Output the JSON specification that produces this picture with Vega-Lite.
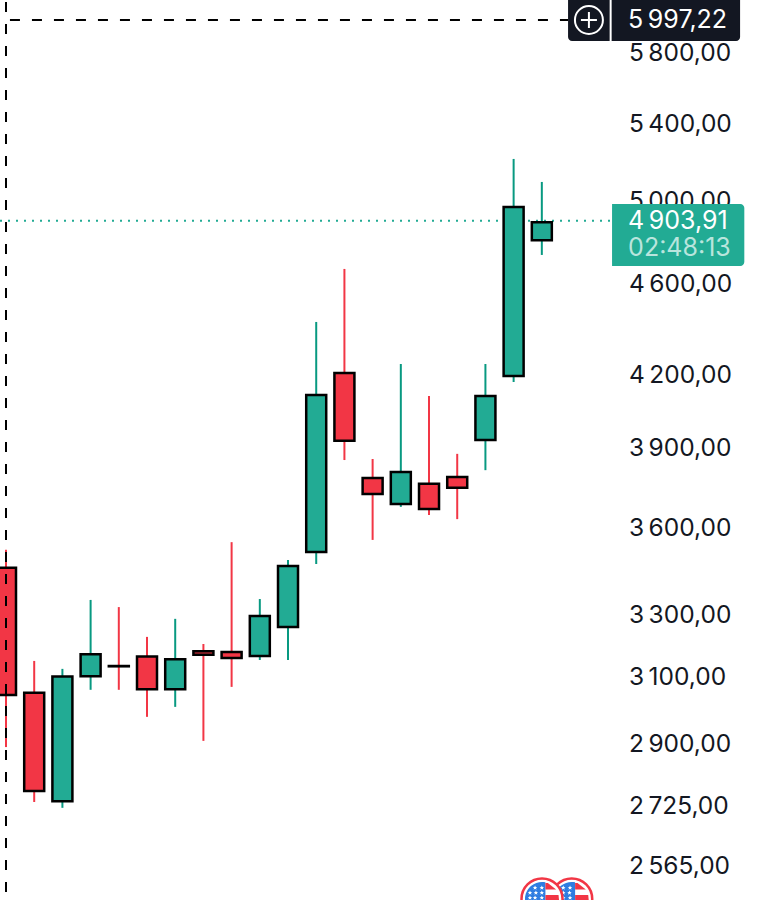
{
"$schema":"https://vega.github.io/schema/vega-lite/v6.json",
"width":768,"height":900,"padding":0,"autosize":{"type":"none"},
"background":"#ffffff",
"config":{"view":{"stroke":null},"scale":{"continuousPadding":0},"locale":{"number":{"decimal":",","thousands":"\u2009","grouping":[3],"currency":["",""]}}},
"datasets":{
"candles":[
{"i":0,"dir":"down","high":3525,"top":3462,"bottom":3047,"low":2892},
{"i":1,"dir":"down","high":3153,"top":3054,"bottom":2767,"low":2737},
{"i":2,"dir":"up","high":3128,"top":3104,"bottom":2739,"low":2721},
{"i":3,"dir":"up","high":3352,"top":3174,"bottom":3105,"low":3063},
{"i":4,"dir":"down","high":3328,"top":3137,"bottom":3136,"low":3063},
{"i":5,"dir":"down","high":3230,"top":3167,"bottom":3065,"low":2981},
{"i":6,"dir":"up","high":3289,"top":3158,"bottom":3065,"low":3011},
{"i":7,"dir":"down","high":3207,"top":3184,"bottom":3173,"low":2910},
{"i":8,"dir":"down","high":3552,"top":3181,"bottom":3162,"low":3072},
{"i":9,"dir":"up","high":3355,"top":3298,"bottom":3169,"low":3156},
{"i":10,"dir":"up","high":3489,"top":3468,"bottom":3262,"low":3156},
{"i":11,"dir":"up","high":4430,"top":4117,"bottom":3517,"low":3475},
{"i":12,"dir":"down","high":4672,"top":4209,"bottom":3932,"low":3857},
{"i":13,"dir":"down","high":3861,"top":3788,"bottom":3728,"low":3560},
{"i":14,"dir":"up","high":4247,"top":3811,"bottom":3691,"low":3680},
{"i":15,"dir":"down","high":4113,"top":3766,"bottom":3672,"low":3650},
{"i":16,"dir":"down","high":3881,"top":3792,"bottom":3751,"low":3635},
{"i":17,"dir":"up","high":4247,"top":4113,"bottom":3935,"low":3818},
{"i":18,"dir":"up","high":5217,"top":4972,"bottom":4196,"low":4171},
{"i":19,"dir":"up","high":5098,"top":4896,"bottom":4808,"low":4738}
],
"stars1":[
{"i":18.76,"v":2511.6},{"i":19.0,"v":2511.6},{"i":18.58,"v":2499},{"i":18.79,"v":2499},{"i":19.0,"v":2499},{"i":18.58,"v":2486.6},{"i":18.76,"v":2486.6},{"i":19.0,"v":2486.6}
],
"stars2":[
{"i":19.76,"v":2511.6},{"i":20.0,"v":2511.6},{"i":19.76,"v":2499},{"i":19.98,"v":2499},{"i":19.76,"v":2486.6},{"i":20.0,"v":2486.6}
]
},
"layer":[
{"data":{"values":[{"a":-0.2128,"b":21.49,"v":4903.91}]},"mark":{"type":"rule","color":"#22ab94","strokeWidth":2,"strokeDash":[2,6]},
"encoding":{"x":{"field":"a","type":"quantitative","axis":null,"scale":{"domain":[-0.2128,27.02],"nice":false,"zero":false,"padding":0}},"x2":{"field":"b"},
"y":{"field":"v","type":"quantitative","scale":{"type":"log","domain":[2480.7,6118.8],"nice":false},
"axis":{"orient":"right","offset":-139.5,"title":null,"grid":false,"domain":false,"ticks":false,"labelPadding":0,"labelAlign":"left","labelFont":"Inter","labelFontSize":24.5,"labelColor":"#131722","format":",.2f","values":[2565,2725,2900,3100,3300,3600,3900,4200,4600,5000,5400,5800]}}}},
{"data":{"name":"candles"},"mark":{"type":"rule","strokeWidth":2},
"encoding":{"x":{"field":"i","type":"quantitative"},"y":{"field":"low","type":"quantitative"},"y2":{"field":"high"},
"color":{"field":"dir","type":"nominal","legend":null,"scale":{"domain":["up","down"],"range":["#089981","#f23645"]}}}},
{"data":{"name":"candles"},"mark":{"type":"bar","size":20,"stroke":"#000000","strokeWidth":2.5},
"encoding":{"x":{"field":"i","type":"quantitative"},"y":{"field":"bottom","type":"quantitative"},"y2":{"field":"top"},
"fill":{"field":"dir","type":"nominal","legend":null,"scale":{"domain":["up","down"],"range":["#22ab94","#f23645"]}}}},
{"data":{"values":[{"a":0}]},"mark":{"type":"rule","color":"#000000","strokeWidth":2,"strokeDash":[10,12],"strokeDashOffset":20},
"encoding":{"x":{"field":"a","type":"quantitative"}}},
{"data":{"values":[{"a":0.14,"b":19.93,"v":5997.22}]},"mark":{"type":"rule","color":"#000000","strokeWidth":2,"strokeDash":[10,12]},
"encoding":{"x":{"field":"a","type":"quantitative"},"x2":{"field":"b"},"y":{"field":"v","type":"quantitative"}}},
{"data":{"values":[{"a":19.93,"b":26.03,"v":5872.2,"v2":6300}]},"mark":{"type":"rect","color":"#131722","cornerRadius":4},
"encoding":{"x":{"field":"a","type":"quantitative"},"x2":{"field":"b"},"y":{"field":"v","type":"quantitative"},"y2":{"field":"v2"}}},
{"data":{"values":[{"a":21.44,"v":5872.2,"v2":6118.8}]},"mark":{"type":"rule","color":"#ffffff","strokeWidth":2},
"encoding":{"x":{"field":"a","type":"quantitative"},"y":{"field":"v","type":"quantitative"},"y2":{"field":"v2"}}},
{"data":{"values":[{"a":20.67,"v":5997.22}]},"mark":{"type":"point","shape":"circle","size":784,"filled":false,"stroke":"#ffffff","strokeWidth":2,"opacity":1},
"encoding":{"x":{"field":"a","type":"quantitative"},"y":{"field":"v","type":"quantitative"}}},
{"data":{"values":[{"a":20.67,"v":5997.22}]},"mark":{"type":"point","shape":"M-1,0L1,0M0,-1L0,1","size":256,"filled":false,"stroke":"#ffffff","strokeWidth":2,"opacity":1},
"encoding":{"x":{"field":"a","type":"quantitative"},"y":{"field":"v","type":"quantitative"}}},
{"data":{"values":[{"a":21.49,"b":26.18,"v":4685.9,"v2":4986.9}]},"mark":{"type":"rect","color":"#22ab94","cornerRadiusTopRight":4,"cornerRadiusBottomRight":4},
"encoding":{"x":{"field":"a","type":"quantitative"},"x2":{"field":"b"},"y":{"field":"v","type":"quantitative"},"y2":{"field":"v2"}}},
{"data":{"values":[{"a":22.06,"v":5997.22,"t":"5\u2009997,22","c":"#ffffff"},{"a":22.06,"v":4903.91,"t":"4\u2009903,91","c":"#ffffff"},{"a":22.06,"v":4771,"t":"02:48:13","c":"#b9e5dd"}]},
"mark":{"type":"text","align":"left","baseline":"middle","font":"Inter","fontSize":25},
"encoding":{"x":{"field":"a","type":"quantitative"},"y":{"field":"v","type":"quantitative"},"text":{"field":"t","type":"nominal"},"color":{"field":"c","type":"nominal","scale":null}}},
{"data":{"values":[{"a":20.06,"v":2483.3}]},"mark":{"type":"point","shape":"circle","size":1681,"filled":true,"fill":"#ffffff","stroke":"#f23645","strokeWidth":2.5,"opacity":1},
"encoding":{"x":{"field":"a","type":"quantitative"},"y":{"field":"v","type":"quantitative"}}},
{"data":{"values":[{"a":20.06,"v":2483.3}]},"mark":{"type":"point","shape":"M0.2,-0.98A1,1 0 0 0 -1,0A1,1 0 0 0 0.2,0.98Z","size":1156,"filled":true,"fill":"#2f7de1","opacity":1},
"encoding":{"x":{"field":"a","type":"quantitative"},"y":{"field":"v","type":"quantitative"}}},
{"data":{"values":[{"a":20.06,"v":2483.3}]},"mark":{"type":"point","shape":"M0.2,-0.94L0.34,-0.94L0.83,-0.56L0.2,-0.56ZM0.2,-0.24L0.97,-0.24L1,0.06L0.2,0.06Z","size":1156,"filled":true,"fill":"#f23645","opacity":1},
"encoding":{"x":{"field":"a","type":"quantitative"},"y":{"field":"v","type":"quantitative"}}},
{"data":{"name":"stars2"},"mark":{"type":"point","shape":"M0,-1L0.3,-0.3L1,-0.3L0.45,0.15L0.65,0.9L0,0.45L-0.65,0.9L-0.45,0.15L-1,-0.3L-0.3,-0.3Z","size":20,"filled":true,"fill":"#ffffff","opacity":1},
"encoding":{"x":{"field":"i","type":"quantitative"},"y":{"field":"v","type":"quantitative"}}},
{"data":{"values":[{"a":19.007,"v":2483.3}]},"mark":{"type":"point","shape":"circle","size":1681,"filled":true,"fill":"#ffffff","stroke":"#f23645","strokeWidth":2.5,"opacity":1},
"encoding":{"x":{"field":"a","type":"quantitative"},"y":{"field":"v","type":"quantitative"}}},
{"data":{"values":[{"a":19.007,"v":2483.3}]},"mark":{"type":"point","shape":"M0.2,-0.98A1,1 0 0 0 -1,0A1,1 0 0 0 0.2,0.98Z","size":1156,"filled":true,"fill":"#2f7de1","opacity":1},
"encoding":{"x":{"field":"a","type":"quantitative"},"y":{"field":"v","type":"quantitative"}}},
{"data":{"values":[{"a":19.007,"v":2483.3}]},"mark":{"type":"point","shape":"M0.2,-0.94L0.34,-0.94L0.83,-0.56L0.2,-0.56ZM0.2,-0.24L0.97,-0.24L1,0.06L0.2,0.06Z","size":1156,"filled":true,"fill":"#f23645","opacity":1},
"encoding":{"x":{"field":"a","type":"quantitative"},"y":{"field":"v","type":"quantitative"}}},
{"data":{"name":"stars1"},"mark":{"type":"point","shape":"M0,-1L0.3,-0.3L1,-0.3L0.45,0.15L0.65,0.9L0,0.45L-0.65,0.9L-0.45,0.15L-1,-0.3L-0.3,-0.3Z","size":20,"filled":true,"fill":"#ffffff","opacity":1},
"encoding":{"x":{"field":"i","type":"quantitative"},"y":{"field":"v","type":"quantitative"}}}
]
}
